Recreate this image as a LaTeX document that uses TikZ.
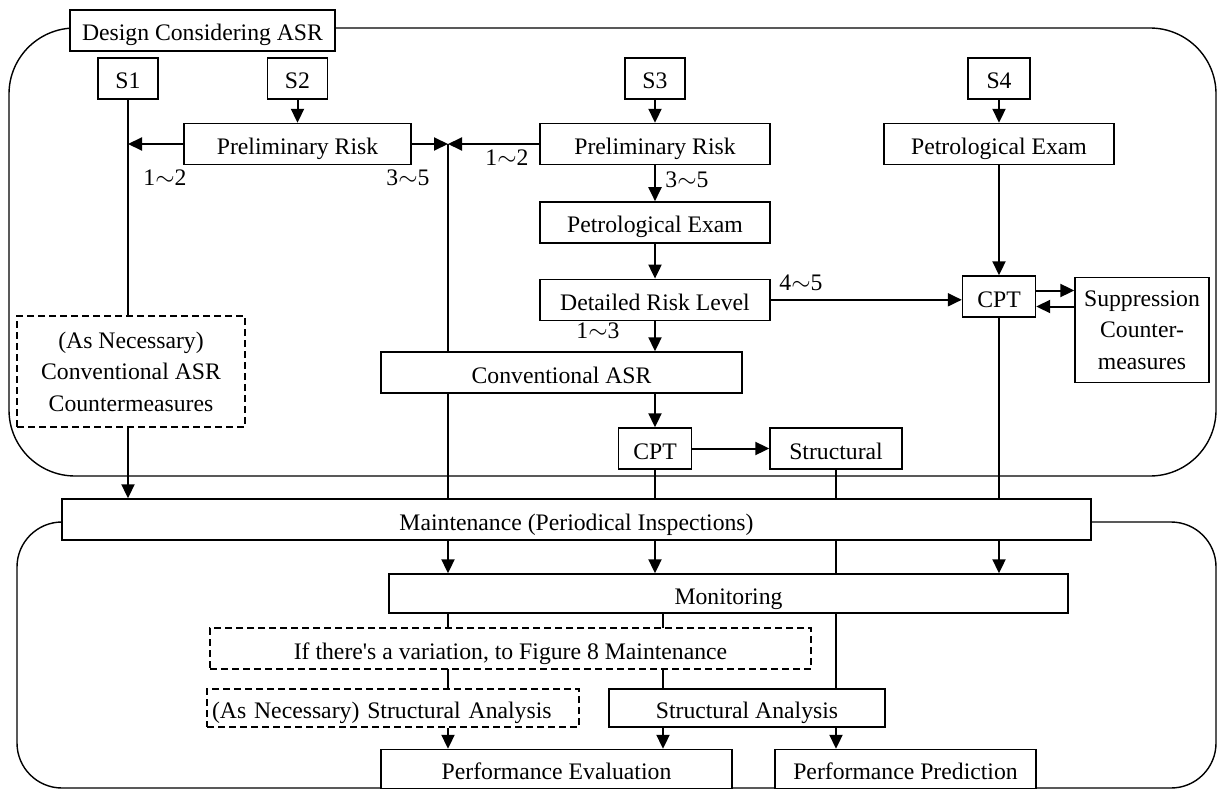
\documentclass[tikz,border=0pt]{standalone}
\usepackage{fontspec}
\setmainfont{Liberation Serif}
\usetikzlibrary{arrows.meta,positioning,backgrounds}

\newcommand{\figfont}{\fontsize{23.7}{31.5}\selectfont}

\tikzset{
  box/.style={draw, line width=1.4pt, fill=white, inner sep=0pt, minimum height=41pt, font=\figfont},
  blk/.style={box, text height=23pt, text depth=2pt},
  dblk/.style={blk, dash pattern=on 7pt off 4pt},
  mblk/.style={box, align=center},
  lnk/.style={line width=2pt},
  arr/.style={lnk, -{Triangle[length=14pt,width=13pt]}},
  region/.style={draw, line width=1.4pt},
  lbl/.style={font=\figfont, inner sep=0pt},
}

\begin{document}
\begin{tikzpicture}[x=1pt,y=-1pt]
        \useasboundingbox (0,0) rectangle (1217,789);
        % Nodes
        \node[blk, minimum width=265pt] (design) at (202.5,30.5) {Design Considering ASR};
        \node[blk, minimum width=60pt] (s1) at (128,78.5) {S1};
        \node[blk, minimum width=60pt] (s2) at (297.5,78.5) {S2};
        \node[blk, minimum width=60pt] (s3) at (655,78.5) {S3};
        \node[blk, minimum width=62pt] (s4) at (999,78.5) {S4};

        \node[blk, minimum width=227pt] (prA) at (297.5,144) {Preliminary Risk};
        \node[blk, minimum width=230pt] (prB) at (655,144) {Preliminary Risk};
        \node[blk, minimum width=230pt, below=36pt of prB] (peB) {Petrological Exam};
        \node[blk, minimum width=230pt, below=35pt of peB] (drl) {Detailed Risk Level};
        \node[blk, minimum width=230pt] (peC) at (999,144) {Petrological Exam};
        \node[blk, minimum width=73pt] (cptA) at (999,296.5) {CPT};
        \node[mblk, minimum width=134pt, minimum height=105pt] (supp) at (1142,330) {Suppression\\Counter-\\measures};

        \node[mblk, dash pattern=on 7pt off 4pt, minimum width=228pt, minimum height=111pt] (asrCnt) at (131,371.5) {(As Necessary)\\Conventional ASR\\Countermeasures};
        \node[blk, minimum width=361pt] (conv) at (561.5,372.5) {Conventional ASR};
        \node[blk, minimum width=73pt] (cptB) at (655,448.5) {CPT};
        \node[blk, minimum width=132pt] (struct) at (836,448.5) {Structural};

        \node[blk, minimum width=1029pt] (maint) at (576.5,519.5) {Maintenance (Periodical Inspections)};
        \node[blk, minimum width=679pt, minimum height=39pt] (mon) at (728.5,593.5) {Monitoring};
        \node[dblk, minimum width=601pt] (ifvar) at (510.5,648.5) {If there\textquotesingle s a variation, to Figure 8 Maintenance};
        \node[dblk, text width=362pt, inner xsep=5pt, align=left, minimum height=38pt] (saOpt) at (393,708) {(As Necessary) Structural Analysis};
        \node[blk, minimum width=276pt, minimum height=38pt] (sa) at (747,708) {Structural Analysis};
        \node[blk, minimum width=351pt, minimum height=39pt] (pEval) at (556.5,769) {Performance Evaluation};
        \node[blk, minimum width=261pt, minimum height=39pt] (pPred) at (905.5,769) {Performance Prediction};

        % Labels
        \node[lbl] (lA12) at (165,178) {1$\sim$2};
        \node[lbl] (lA35) at (408,178) {3$\sim$5};
        \node[lbl] (lB12) at (507,158) {1$\sim$2};
        \node[lbl] (lB35) at (687,180) {3$\sim$5};
        \node[lbl] (lB45) at (801,283) {4$\sim$5};
        \node[lbl] (lB13) at (598,331) {1$\sim$3};

        \coordinate (jn) at (448,144);
        \coordinate (cB) at (663,613);

        \begin{scope}[on background layer]
          \draw[region, rounded corners=66pt] (9,28) rectangle (1216,476);
          \draw[region, rounded corners=45pt] (17,522) rectangle (1216,788);
          % lines passing behind boxes
          \draw[lnk] (jn) -- (jn |- maint.north);
          \draw[lnk] (struct.south) -- (struct.south |- sa.north);
          \draw[lnk] (mon.south -| jn) -- (saOpt.north -| jn);
          \draw[lnk] (cB) -- (cB |- sa.north);
        \end{scope}

        % Edges
        \draw[lnk] (s1.south) -- (s1.south |- asrCnt.north);
        \draw[arr] (asrCnt.south -| s1) -- (maint.north -| s1);
        \draw[arr] (s2.south) -- (prA.north);
        \draw[arr] (prA.west) -- (prA.west -| s1);
        \draw[arr] (prA.east) -- (jn);
        \draw[arr] (prB.west) -- (jn);
        \draw[arr] (s3.south) -- (prB.north);
        \draw[arr] (prB.south) -- (peB.north);
        \draw[arr] (peB.south) -- (drl.north);
        \draw[arr] (drl.south) -- (drl.south |- conv.north);
        \draw[arr] (conv.south -| cptB) -- (cptB.north);
        \draw[arr] (cptB.east) -- (struct.west);
        \draw[lnk] (cptB.south) -- (cptB.south |- maint.north);
        \draw[arr] (maint.south -| cptB) -- (mon.north -| cptB);
        \draw[arr] (sa.south -| struct) -- (pPred.north -| struct);
        \draw[arr] (s4.south) -- (peC.north);
        \draw[arr] (peC.south) -- (cptA.north);
        \draw[arr] (drl.east) -- (drl.east -| cptA.west);
        \draw[arr] ([yshift=6pt]cptA.east) -- ([yshift=6pt]cptA.east -| supp.west);
        \draw[arr] ([yshift=-10pt]cptA.east -| supp.west) -- ([yshift=-10pt]cptA.east);
        \draw[lnk] (cptA.south) -- (cptA.south |- maint.north);
        \draw[arr] (maint.south -| cptA) -- (mon.north -| cptA);
        \draw[arr] (maint.south -| jn) -- (mon.north -| jn);
        \draw[arr] (saOpt.south -| jn) -- (pEval.north -| jn);
        \draw[arr] (sa.south -| cB) -- (pEval.north -| cB);
\end{tikzpicture}
\end{document}
